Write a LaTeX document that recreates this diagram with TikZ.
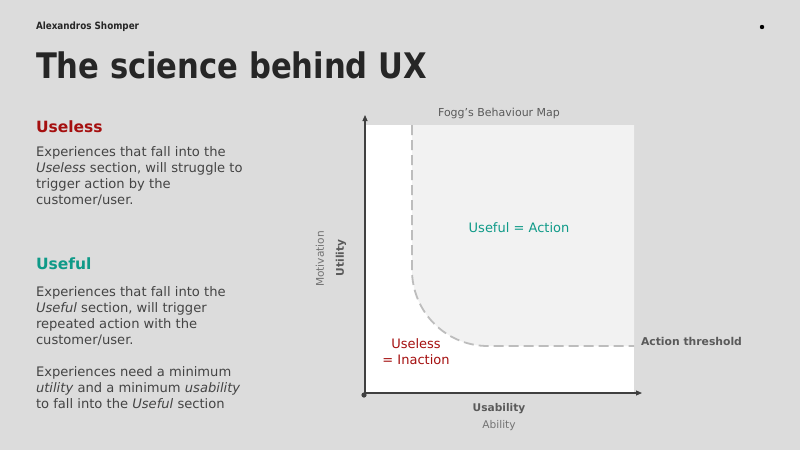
\documentclass[tikz,border=0pt]{standalone}
\usepackage{fontspec}
\setmainfont{DejaVu Sans}
\newfontfamily\titlefont[FakeStretch=0.88]{DejaVu Sans}
\newfontfamily\bigtitlefont[FakeStretch=0.87]{DejaVu Sans}
\definecolor{bgc}{HTML}{DCDCDC}
\definecolor{shadec}{HTML}{F2F2F2}
\definecolor{dashc}{HTML}{BDBDBD}
\definecolor{axisc}{HTML}{404040}
\definecolor{titlec}{HTML}{262626}
\definecolor{bodyc}{HTML}{444444}
\definecolor{redc}{HTML}{A50F0F}
\definecolor{tealc}{HTML}{0F9A88}
\definecolor{labelc}{HTML}{5A5A5A}
\usetikzlibrary{arrows.meta}
\tikzset{
  txt/.style={inner sep=0pt, outer sep=0pt},
  body/.style={txt, anchor=north west, align=left, text=bodyc, font=\fontsize{13.1}{16}\selectfont},
  head/.style={txt, anchor=base west, font=\bfseries\fontsize{15.5}{18}\selectfont},
  axisline/.style={draw=axisc, line width=1.1pt, -{Triangle[length=6pt,width=5pt]}},
  threshold/.style={draw=dashc, line width=1.8pt, dash pattern=on 10pt off 5pt},
}
\begin{document}
\begin{tikzpicture}[x=1pt,y=-1pt]
\fill[bgc] (0,0) rectangle (800,450);
\useasboundingbox (0,0) rectangle (800,450);
% header
\node[txt, anchor=base west, text=titlec, font=\titlefont\bfseries\fontsize{10}{12}\selectfont] (author) at (36,29.5) {Alexandros Shomper};
\fill[black] (762,27) circle (2.2pt);
\node[txt, anchor=base west, text=titlec, font=\bigtitlefont\bfseries\fontsize{35.2}{40}\selectfont] (title) at (36,78.5) {The science behind UX};
% left column
\node[head, text=redc] (h1) at (36,132.5) {Useless};
\node[body] (b1) at (36,147) {Experiences that fall into the\\\emph{Useless} section, will struggle to\\trigger action by the\\customer/user.};
\node[head, text=tealc] (h2) at (36,269.5) {Useful};
\node[body] (b2) at (36,287) {Experiences that fall into the\\\emph{Useful} section, will trigger\\repeated action with the\\customer/user.};
\node[body] (b3) at (36,367) {Experiences need a minimum\\\emph{utility} and a minimum \emph{usability}\\to fall into the \emph{Useful} section};
% plot
\fill[white] (365,125) rectangle (634,393);
\fill[shadec] (412,125) -- (412,270) .. controls (412,312) and (446,346) .. (488,346) -- (634,346) -- (634,125) -- cycle;
\draw[threshold] (412,125) -- (412,270) .. controls (412,312) and (446,346) .. (488,346) -- (634,346);
\coordinate (o) at (365,393);
\coordinate (ytip) at (365,115);
\coordinate (xtip) at (642,393);
\coordinate (xstart) at (364,393);
\draw[axisline] (o) -- (ytip);
\draw[axisline] (xstart) -- (xtip);
\fill[axisc] (364,395) circle (2.6pt);
\node[txt, text=labelc, font=\fontsize{11}{12}\selectfont] (maptitle) at (499,113) {Fogg’s Behaviour Map};
\node[txt, text=tealc, font=\fontsize{13}{15}\selectfont] (useful) at (519,228) {Useful = Action};
\node[txt, text=redc, align=center, font=\fontsize{13}{16}\selectfont] (useless) at (416,352) {Useless\\= Inaction};
\node[txt, anchor=west, text=labelc, font=\bfseries\fontsize{10.8}{12}\selectfont] (thr) at (641,341) {Action threshold};
\node[txt, text=labelc, font=\bfseries\fontsize{10.6}{12}\selectfont] (usab) at (499,409) {Usability};
\node[txt, text=gray!90!black, font=\fontsize{10.6}{12}\selectfont] (abil) at (499,426) {Ability};
\node[txt, rotate=90, text=gray!90!black, font=\fontsize{10.6}{12}\selectfont] (motiv) at (320,259) {Motivation};
\node[txt, rotate=90, text=labelc, font=\bfseries\fontsize{10.6}{12}\selectfont] (util) at (341,258) {Utility};
\end{tikzpicture}
\end{document}
